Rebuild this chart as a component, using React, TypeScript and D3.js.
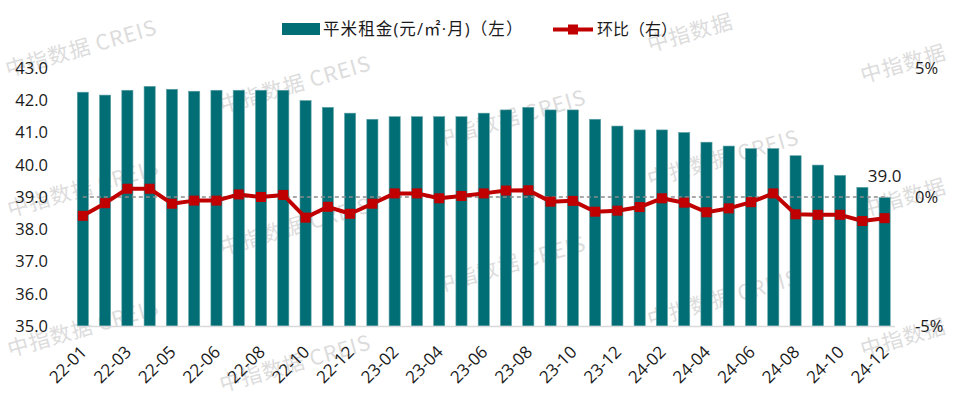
import React, { useEffect } from "react";
import * as d3 from "d3";

const categories: string[] = [
  "22-01", "22-02", "22-03", "22-04", "22-05", "22-05", "22-06", "22-07", "22-08", "22-09",
  "22-10", "22-11", "22-12", "23-01", "23-02", "23-03", "23-04", "23-05", "23-06", "23-07",
  "23-08", "23-09", "23-10", "23-11", "23-12", "24-01", "24-02", "24-03", "24-04", "24-05",
  "24-06", "24-07", "24-08", "24-09", "24-10", "24-11", "24-12",
];

const rent: number[] = [
  42.25, 42.16, 42.31, 42.43, 42.34, 42.28, 42.31, 42.31, 42.31, 42.31,
  41.99, 41.78, 41.6, 41.41, 41.49, 41.49, 41.49, 41.49, 41.6, 41.7,
  41.78, 41.7, 41.7, 41.41, 41.2, 41.08, 41.08, 41.0, 40.7, 40.58,
  40.5, 40.5, 40.28, 39.99, 39.67, 39.3, 38.98,
];

const mom: number[] = [
  -0.73, -0.24, 0.32, 0.32, -0.26, -0.14, -0.14, 0.1, 0.0, 0.08,
  -0.8, -0.38, -0.65, -0.26, 0.14, 0.14, -0.05, 0.04, 0.14, 0.25,
  0.26, -0.18, -0.15, -0.57, -0.53, -0.39, -0.05, -0.22, -0.59, -0.44,
  -0.2, 0.14, -0.67, -0.69, -0.69, -0.93, -0.82,
];

const leftTicks: number[] = [35, 36, 37, 38, 39, 40, 41, 42, 43];
const rightTicks: number[] = [-5, 0, 5];
const legendLabels: string[] = ["平米租金(元/㎡·月)（左）", "环比（右）"];
const watermarkFull = "中指数据 CREIS";
const watermarkShort = "中指数据";
const watermarks: [number, number, boolean][] = [
  [8, 77, true], [10, 217, true], [10, 357, true],
  [222, 113, true], [222, 255, true], [222, 392, true],
  [437, 147, true], [437, 293, true],
  [650, 52, false], [650, 187, true], [650, 327, true],
  [863, 83, false], [863, 217, false], [863, 357, false],
];

const W = 960;
const H = 403;
const TEAL = "#016d75";
const RED = "#c00000";
const FONT = "'Open Sans', 'Noto Sans CJK SC', sans-serif";
const CJK = "'Noto Sans CJK SC', sans-serif";

export default function App() {
  useEffect(() => {
    document.body.style.margin = "0";
  }, []);

  const x = d3
    .scaleBand<number>()
    .domain(d3.range(categories.length))
    .range([71.7, 895.8])
    .paddingInner(0.5)
    .paddingOuter(0.25);
  const yL = d3.scaleLinear().domain([35, 43]).range([326, 68]);
  const yR = d3.scaleLinear().domain([-5, 5]).range([326, 68]);
  const cx = (i: number) => (x(i) as number) + x.bandwidth() / 2;

  const line = d3
    .line<number>()
    .x((_, i) => cx(i))
    .y((d) => yR(d));

  const n = categories.length;
  const last = n - 1;

  return (
    <svg width={W} height={H} style={{ position: "absolute", left: 0, top: 0, background: "#fff" }}>
      {/* watermarks */}
      <g>
        {watermarks.map(([wx, wy, full], i) => (
          <text
            key={i}
            transform={`translate(${wx},${wy}) rotate(-16)`}
            fontFamily={CJK}
            fontSize={21}
            fill="#dcdcdc"
            letterSpacing={1}
          >
            {full ? watermarkFull : watermarkShort}
          </text>
        ))}
      </g>

      {/* bars */}
      <g>
        {rent.map((v, i) => (
          <rect
            key={i}
            x={x(i)}
            y={yL(v)}
            width={x.bandwidth()}
            height={yL(35) - yL(v)}
            fill={TEAL}
            stroke="#5fa2a7"
            strokeWidth={0.6}
          />
        ))}
      </g>

      {/* baseline */}
      <line x1={77} x2={895} y1={yL(35) + 0.5} y2={yL(35) + 0.5} stroke="#d9d9d9" strokeWidth={1.5} />

      {/* zero dashed */}
      <line
        x1={cx(0)}
        x2={cx(last)}
        y1={yR(0)}
        y2={yR(0)}
        stroke="#8c8c8c"
        strokeWidth={1.5}
        strokeDasharray="4 3"
      />

      {/* line */}
      <path d={line(mom) || ""} fill="none" stroke={RED} strokeWidth={4} strokeLinejoin="round" />
      {mom.map((v, i) => (
        <rect key={i} x={cx(i) - 5} y={yR(v) - 5} width={10} height={10} fill={RED} />
      ))}

      {/* data label */}
      <text x={cx(last)} y={yL(rent[last]) - 16} textAnchor="middle" fontFamily={FONT} fontSize={17} fill="#1a1a1a">
        {rent[last].toFixed(1)}
      </text>

      {/* left axis labels */}
      {leftTicks.map((t) => (
        <text key={t} x={48} y={yL(t)} dy="0.35em" textAnchor="end" fontFamily={FONT} fontSize={16.5} fill="#1a1a1a">
          {t.toFixed(1)}
        </text>
      ))}

      {/* right axis labels */}
      {rightTicks.map((t) => (
        <text key={t} x={915} y={yR(t)} dy="0.35em" textAnchor="start" fontFamily={FONT} fontSize={16.5} fill="#1a1a1a">
          {`${t}%`}
        </text>
      ))}

      {/* x labels */}
      {categories.map((c, i) =>
        i % 2 === 0 ? (
          <text
            key={i}
            transform={`translate(${cx(i) + 5},${353}) rotate(-45)`}
            textAnchor="end"
            fontFamily={FONT}
            fontSize={17}
            fill="#1a1a1a"
          >
            {c}
          </text>
        ) : null
      )}

      {/* legend */}
      <rect x={282} y={23} width={38} height={12} fill={TEAL} />
      <text x={323} y={35} fontFamily={FONT} fontSize={16.5} fill="#1a1a1a" letterSpacing={1.1}>
        {legendLabels[0]}
      </text>
      <line x1={553} x2={593} y1={29.5} y2={29.5} stroke={RED} strokeWidth={4} />
      <rect x={568} y={24.5} width={10} height={10} fill={RED} />
      <text x={597} y={35} fontFamily={FONT} fontSize={16} fill="#1a1a1a">
        {legendLabels[1]}
      </text>
    </svg>
  );
}
